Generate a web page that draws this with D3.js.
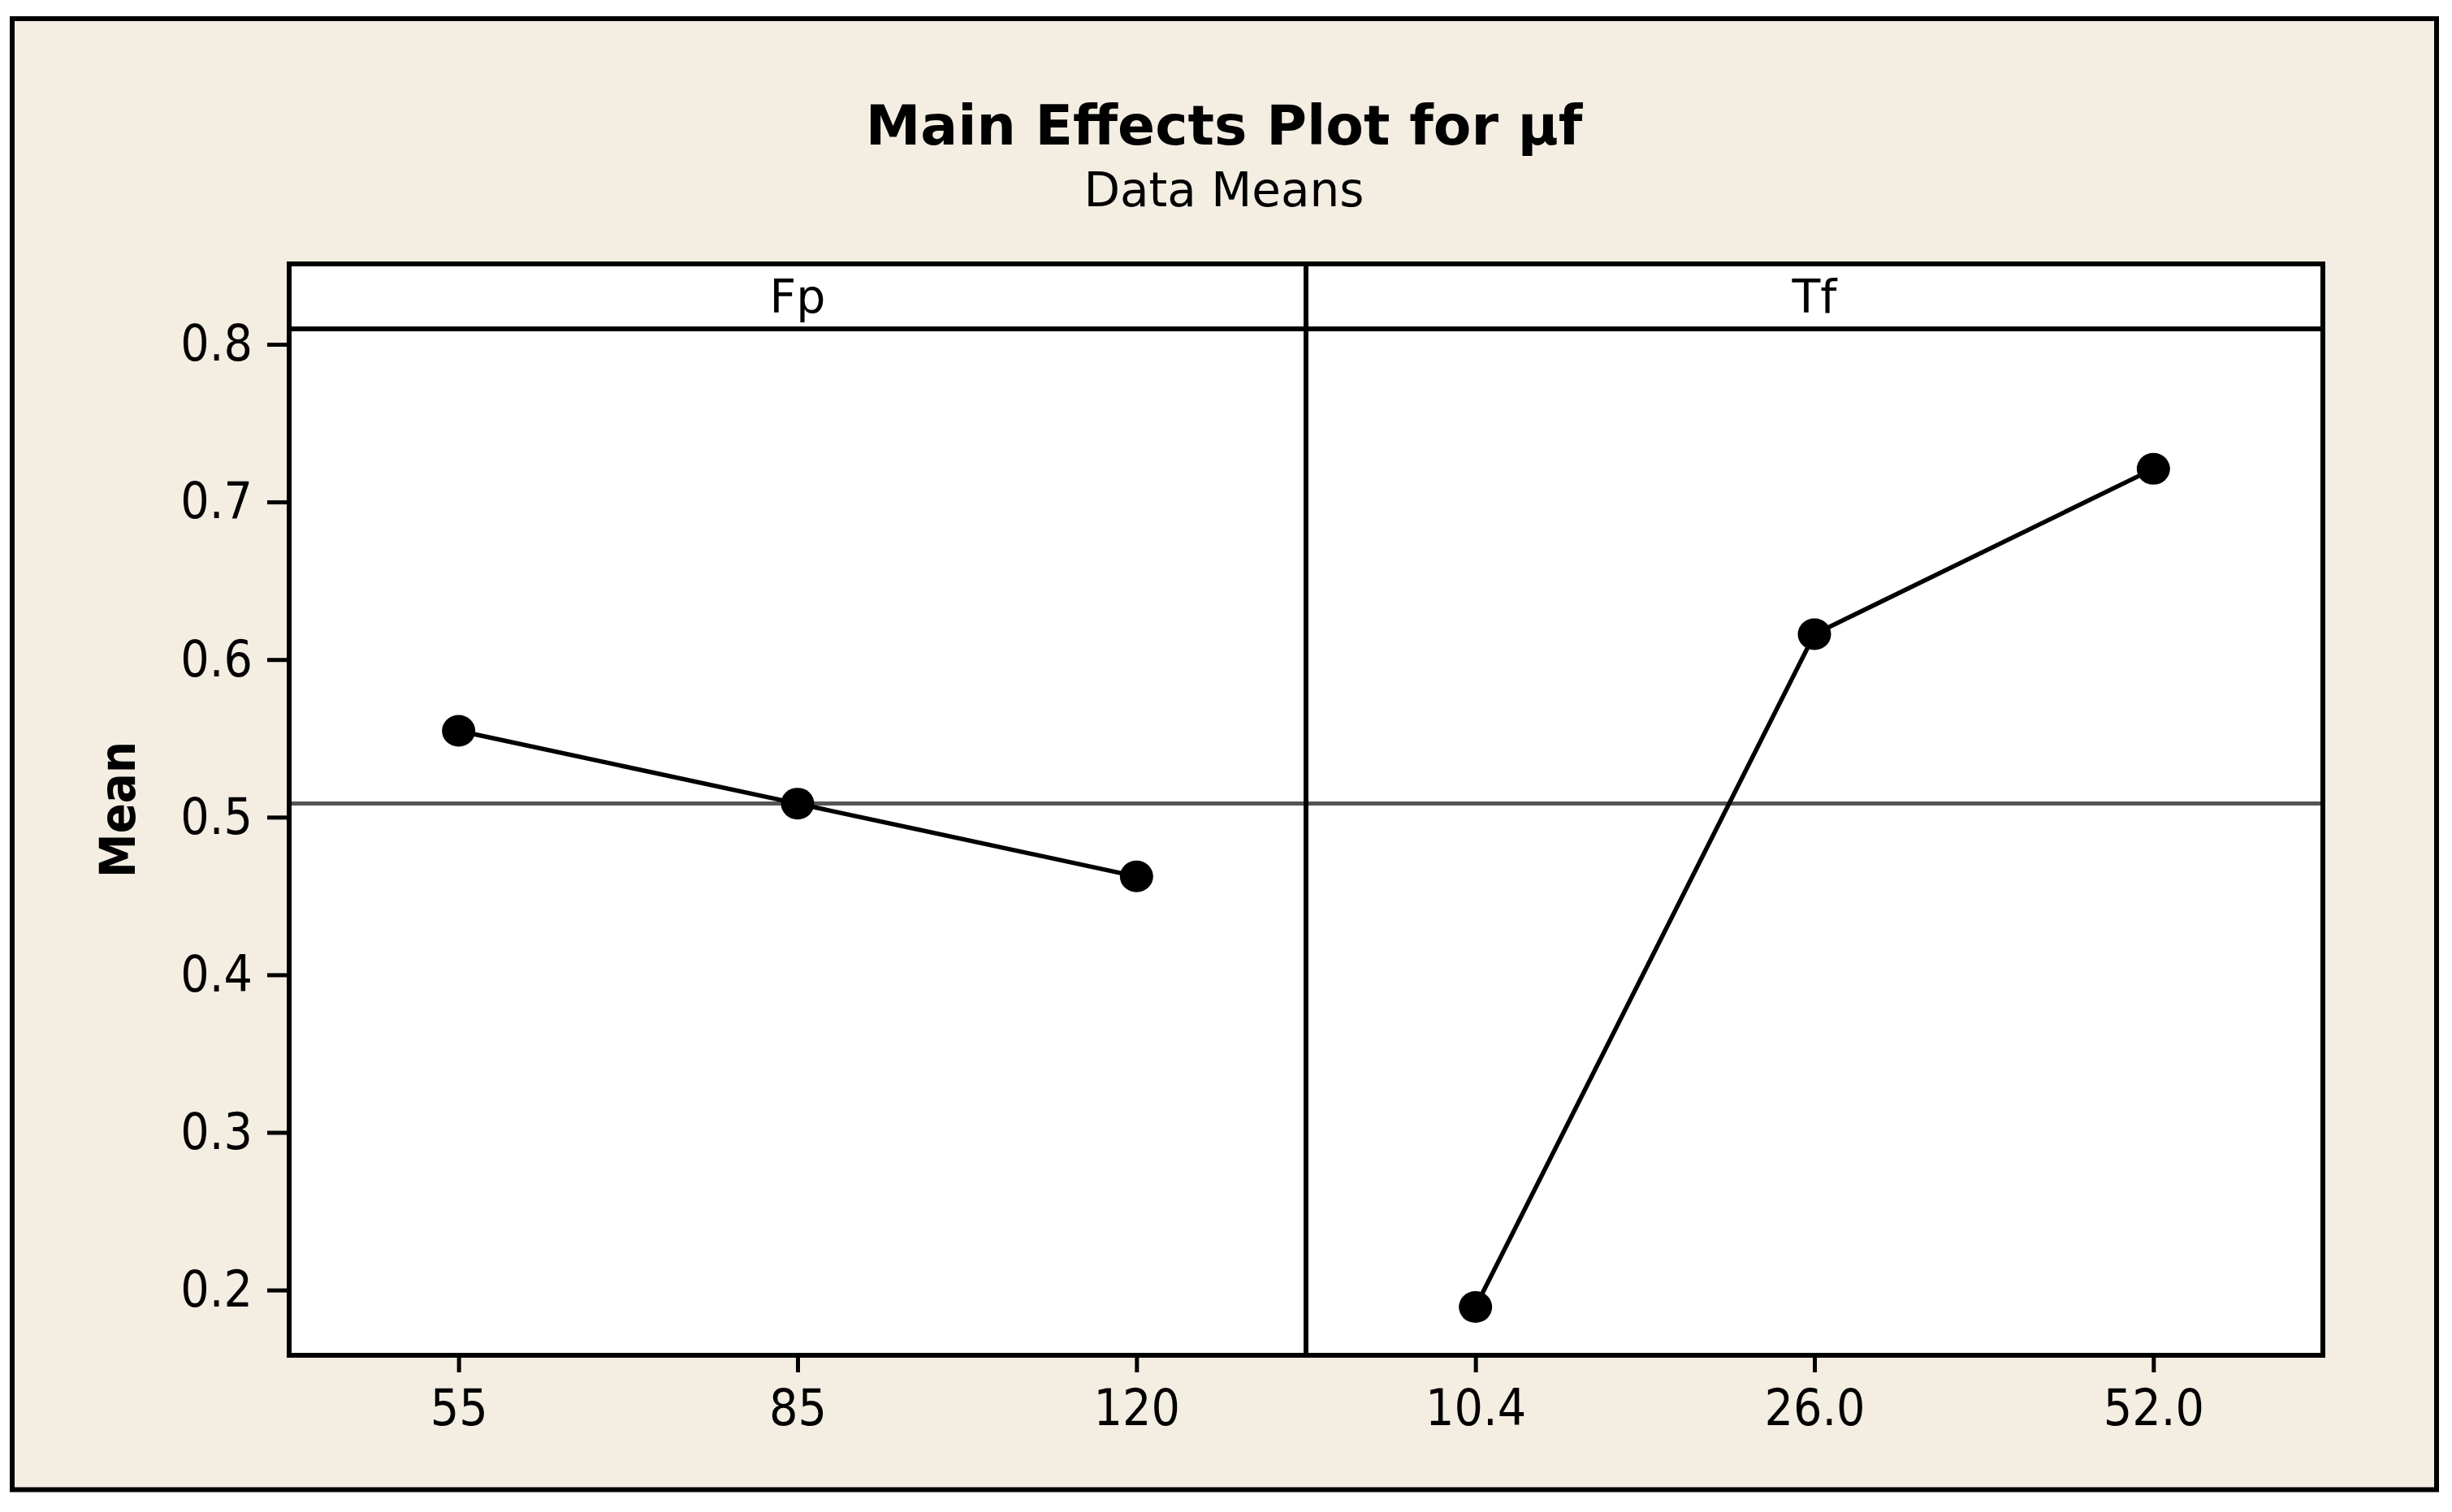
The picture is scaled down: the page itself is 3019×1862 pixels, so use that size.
<!DOCTYPE html>
<html>
<head>
<meta charset="utf-8">
<script src="https://cdn.jsdelivr.net/npm/d3@7"></script>
<style>
  html, body { margin: 0; padding: 0; background: #ffffff; }
  svg { display: block; }
</style>
</head>
<body>
<script>
// ---- Data ----
const titleText = "Main Effects Plot for µf";
const subtitleText = "Data Means";
const yLabel = "Mean";
const factorNames = ["Fp", "Tf"];
const fpLevels = ["55", "85", "120"];
const fpMeans = [0.5548, 0.5086, 0.4624];
const tfLevels = ["10.4", "26.0", "52.0"];
const tfMeans = [0.1892, 0.6161, 0.7210];
const yTicks = [0.2, 0.3, 0.4, 0.5, 0.6, 0.7, 0.8];
const yDomain = [0.1586, 0.8098];

const W = 3019, H = 1862;
const bg = "#F3EDE2";
const font = "'DejaVu Sans', Verdana, sans-serif";

const svg = d3.select("body").append("svg")
  .attr("width", W).attr("height", H);

// Outer background / border
svg.append("rect").attr("x", 0).attr("y", 0).attr("width", W).attr("height", H).attr("fill", "#ffffff");
svg.append("rect")
  .attr("x", 15).attr("y", 23).attr("width", 2985).attr("height", 1811.5)
  .attr("fill", bg).attr("stroke", "#000").attr("stroke-width", 6);

// Layout
const plotL = 356, plotR = 2860, plotT = 325, stripB = 405, plotB = 1669;
const panelW = (plotR - plotL) / 2;

// Titles
svg.append("text").attr("x", 1507).attr("y", 178)
  .attr("text-anchor", "middle").attr("font-family", font)
  .attr("font-weight", "bold").attr("font-size", 68).text(titleText);
svg.append("text").attr("x", 1507).attr("y", 254)
  .attr("text-anchor", "middle").attr("font-family", font)
  .attr("font-size", 58).text(subtitleText);

// Plot background
svg.append("rect").attr("x", plotL).attr("y", plotT)
  .attr("width", plotR - plotL).attr("height", plotB - plotT).attr("fill", "#fff");

// Y scale
const y = d3.scaleLinear().domain(yDomain).range([plotB, stripB]);

// Y axis
const yAxis = svg.append("g").attr("transform", `translate(${plotL},0)`)
  .call(d3.axisLeft(y).tickValues(yTicks).tickFormat(d3.format(".1f")).tickSize(27).tickPadding(18));
yAxis.select(".domain").remove();
yAxis.selectAll(".tick line").attr("stroke", "#000").attr("stroke-width", 5);
yAxis.selectAll(".tick text").attr("font-family", font).style("font-stretch", "condensed")
  .attr("font-size", 62).attr("fill", "#000");

// Y label
svg.append("text")
  .attr("transform", "translate(144,997) rotate(-90)")
  .attr("text-anchor", "middle").attr("dy", "0.36em")
  .attr("font-family", font).style("font-stretch", "condensed")
  .attr("font-weight", "bold").attr("font-size", 61).text(yLabel);

// Grand mean reference line
const allMeans = fpMeans.concat(tfMeans);
const grandMean = d3.mean(allMeans);
svg.append("line").attr("x1", plotL).attr("x2", plotR)
  .attr("y1", y(grandMean)).attr("y2", y(grandMean))
  .attr("stroke", "#555555").attr("stroke-width", 5);

// Panels
const panels = [
  { name: factorNames[0], levels: fpLevels, means: fpMeans },
  { name: factorNames[1], levels: tfLevels, means: tfMeans }
];

panels.forEach((p, i) => {
  const x0 = plotL + i * panelW, x1 = x0 + panelW;
  const x = d3.scalePoint().domain(p.levels).range([x0, x1]).padding(0.5);
  const pts = p.levels.map((lv, k) => ({ lv, v: p.means[k] }));

  const line = d3.line().x(d => x(d.lv)).y(d => y(d.v));
  svg.append("path").datum(pts).attr("d", line)
    .attr("fill", "none").attr("stroke", "#000").attr("stroke-width", 5.5);
  svg.selectAll(null).data(pts).enter().append("ellipse")
    .attr("cx", d => x(d.lv)).attr("cy", d => y(d.v))
    .attr("rx", 20.5).attr("ry", 19.5).attr("fill", "#000");

  // X axis
  const xAxis = svg.append("g").attr("transform", `translate(0,${plotB})`)
    .call(d3.axisBottom(x).tickSize(21).tickPadding(21));
  xAxis.select(".domain").remove();
  xAxis.selectAll(".tick line").attr("stroke", "#000").attr("stroke-width", 5);
  xAxis.selectAll(".tick text").attr("font-family", font).style("font-stretch", "condensed")
    .attr("font-size", 62).attr("fill", "#000");

  // Strip label
  svg.append("text").attr("x", (x0 + x1) / 2).attr("y", 385)
    .attr("text-anchor", "middle").attr("font-family", font)
    .attr("font-size", 57).text(p.name);
});

// Frame lines
const frame = svg.append("g").attr("stroke", "#000").attr("stroke-width", 6).attr("fill", "none");
frame.append("rect").attr("x", plotL).attr("y", plotT)
  .attr("width", plotR - plotL).attr("height", plotB - plotT);
frame.append("line").attr("x1", plotL).attr("x2", plotR).attr("y1", stripB).attr("y2", stripB);
frame.append("line").attr("x1", plotL + panelW).attr("x2", plotL + panelW).attr("y1", plotT).attr("y2", plotB);
</script>
</body>
</html>
